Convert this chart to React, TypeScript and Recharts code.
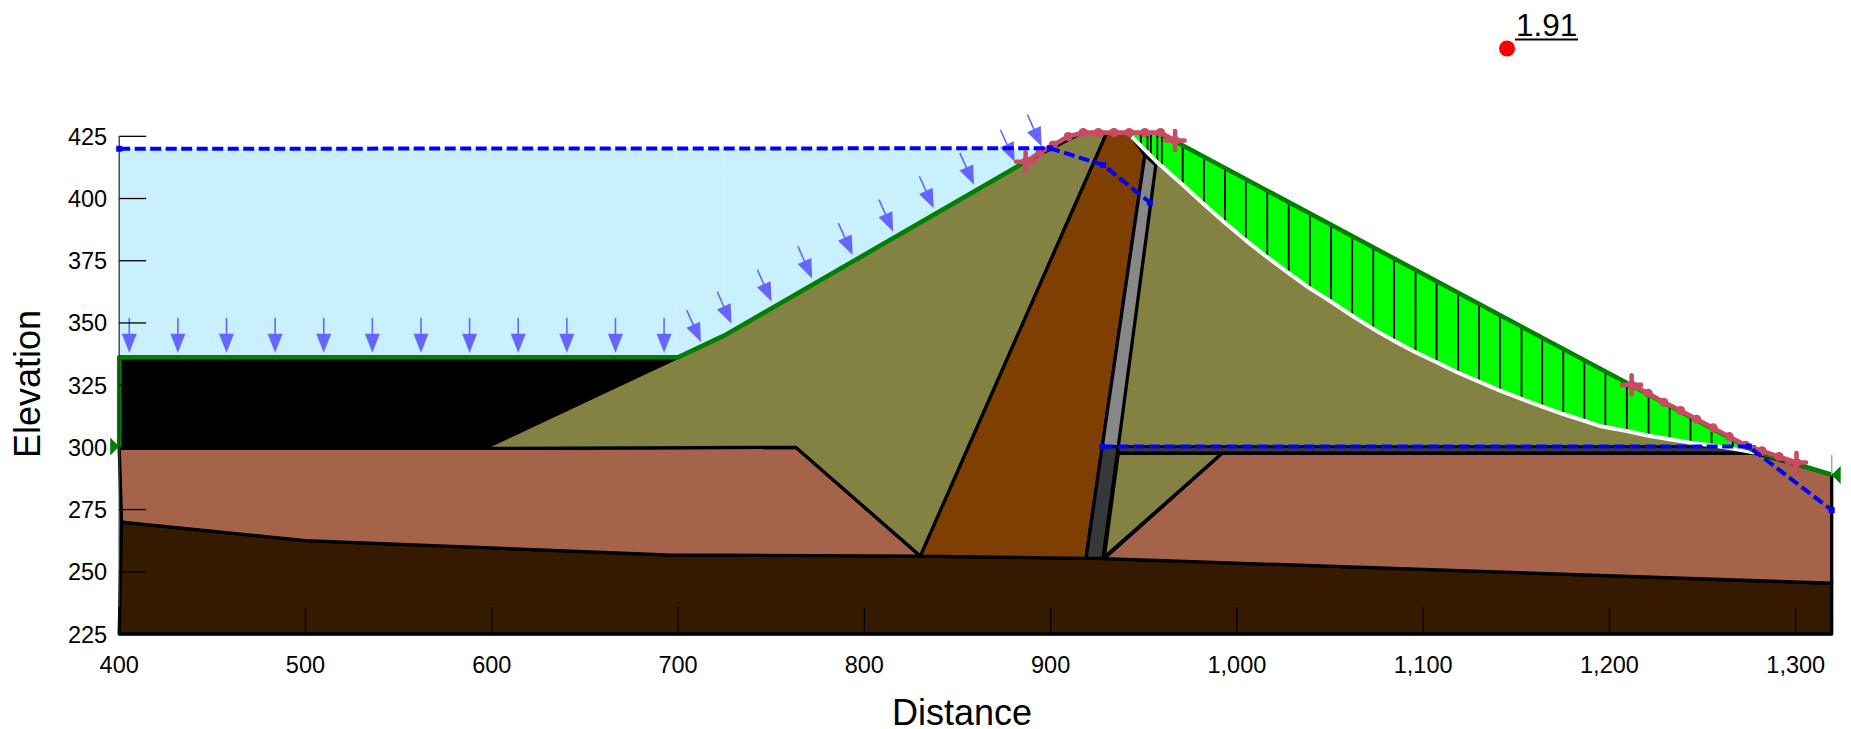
import React from 'react';
import { ScatterChart, Scatter, XAxis, YAxis } from 'recharts';

type V = [number, number];

const xTicks = [400, 500, 600, 700, 800, 900, 1000, 1100, 1200, 1300];
const yTicks = [225, 250, 275, 300, 325, 350, 375, 400, 425];

const water: V[] = [[400, 420], [900, 420], [725, 345], [700, 336.2], [400, 336.2]];
const bedrock: V[] = [[401.3, 270], [500, 262.5], [694, 256.8], [830, 256.3], [919, 255.4], [928.8, 255.3], [1319.3, 245.4], [1319.3, 225], [400, 225]];
const foundationLeft: V[] = [[400, 299.6], [596, 299.6], [763.3, 300], [830, 256.3], [694, 256.8], [500, 262.5], [401.3, 270]];
const foundationRight: V[] = [[992, 297.6], [1278, 297.6], [1319.3, 289], [1319.3, 245.4], [928.8, 255.3]];
const blackLayer: V[] = [[400, 336.2], [700, 336.2], [596, 299.6], [400, 299.6]];
const shellUpstream: V[] = [[596, 299.6], [700, 336.2], [725, 345], [886.6, 414.8], [917, 426.5], [930.2, 426.5], [830.1, 256.3], [763.3, 300]];
const core: V[] = [[830.1, 256.3], [930.2, 426.5], [942, 426.5], [950.6, 417.5], [919, 255.4]];
const filterUpper: V[] = [[927.7, 300.3], [936.3, 300.3], [956.5, 413.5], [950.6, 417.5]];
const filterLower: V[] = [[919, 255.4], [928.1, 255.4], [936.3, 300.3], [927.7, 300.3]];
const drainLayer: V[] = [[936.3, 300.3], [1278, 300.3], [1278, 297.8], [936.3, 297.8]];
const toeWedge: V[] = [[936.3, 297.6], [992, 297.6], [928.8, 255.8]];

const slipCurve: V[] = [
  [943.5, 424.9], [956.9, 414.8], [970.9, 405.5], [982.3, 397.7], [993.6, 390.3], [1004.8, 383.2],
  [1016.3, 376.4], [1027.8, 370], [1039.2, 363.9], [1050.5, 358.6], [1061.9, 352.9], [1073.2, 347.6],
  [1084.4, 342.8], [1095.9, 338.2], [1107.2, 334.2], [1118.8, 330], [1130, 326.4], [1141.2, 322.8],
  [1152.8, 319.5], [1163.9, 316.4], [1175.2, 313.4], [1194.8, 308.6], [1209.3, 306.6], [1221, 304.7],
  [1232.3, 303.3], [1243.5, 301.9], [1254.8, 300.8], [1266.2, 299.5], [1278, 297.9],
];
const surfaceRight: V[] = [[958, 426.5], [1278, 298.4], [1319.3, 289]];
const surfaceLeft: V[] = [[400, 300], [400, 336.2], [700, 336.2], [725, 345], [886.6, 414.8]];
const slipTop: V[] = [[943.5, 426.5], [958, 426.5], [1278, 298.4]];

// slice x, top elevation, bottom elevation
const slices: [number, number, number][] = [
  [948.4, 426.5, 420.8], [952, 426.5, 418], [953.8, 426.5, 416.3], [957.3, 426.5, 414.4], [959.7, 425.8, 413],
  [970.9, 421.3, 405.5], [982.3, 416.8, 397.7], [993.6, 412.3, 390.3], [1004.8, 407.8, 383.2], [1016.3, 403.2, 376.4],
  [1027.8, 398.6, 370], [1039.2, 394, 363.9], [1050.5, 389.5, 358.6], [1061.9, 384.9, 352.9], [1073.2, 380.4, 347.6],
  [1084.4, 375.9, 342.8], [1095.9, 371.3, 338.2], [1107.2, 366.8, 334.2], [1118.8, 362.2, 330], [1130, 357.7, 326.4],
  [1141.2, 353.2, 322.8], [1152.8, 348.6, 319.5], [1163.9, 344.1, 316.4], [1175.2, 339.6, 313.4], [1186.5, 335, 310.9],
  [1197.8, 330.5, 308.1], [1209.3, 325.9, 306.6], [1221, 321.3, 304.7], [1232.3, 316.8, 303.3], [1243.5, 312.3, 301.9],
  [1254.8, 307.8, 300.8], [1266.2, 303.2, 299.5],
];

const piezoUpper: V[] = [[400, 420], [899.6, 420.2], [928.2, 413.5], [953.3, 398.4]];
const piezoLower: V[] = [[927.7, 300.3], [1274.8, 300.3], [1319.3, 274.8]];

const slipEntry: V[] = [[886.6, 414.8], [894.3, 418.4], [901.4, 421.5], [909.5, 424.9], [917.5, 426.5], [925.6, 426.5], [934, 426.5], [942.2, 426.5], [950.6, 426.5], [959, 426.5], [966.8, 423.3]];
const slipExit: V[] = [[1211.9, 325.1], [1220.8, 321.7], [1229.2, 318.1], [1238.2, 314.8], [1246.8, 311.3], [1255.7, 307.8], [1264.3, 304.3], [1273.1, 300.8], [1281.9, 298.6], [1291, 296.3], [1300.4, 293.9]];
const slipEnds: V[] = [[886.6, 414.8], [966.8, 423.3], [1211.9, 325.1], [1300.4, 293.9]];

const pressureFlat: V[] = [[405.4, 338], [431.5, 338], [457.6, 338], [483.7, 338], [509.8, 338], [535.9, 338], [562, 338], [588.1, 338], [614.2, 338], [640.3, 338], [666.4, 338], [692.5, 338]];
const pressureSlope: V[] = [[712.3, 342.3], [728.7, 349.7], [750.2, 358.6], [772, 367.9], [793.7, 377.3], [815.5, 386.7], [837.2, 396.1], [858.9, 405.5], [880.7, 414.8], [895.2, 420.9]];

const criticalPoint: V[] = [[1145, 460.3]];
const factorOfSafety = '1.91';
const leftPin: V[] = [[400, 300.3]];
const rightPin: V[] = [[1319.3, 288.9]];
const rightPinStem: V[] = [[1319.3, 296.9], [1319.3, 288.9]];
const leftAxis: V[] = [[400, 225], [400, 425]];
const bottomAxis: V[] = [[400, 225], [1320, 225]];
const seamA: V[] = [[699, 420], [699, 336.5]];
const seamB: V[] = [[725, 420], [725, 345]];

const FONT = '"Liberation Sans", Arial, sans-serif';
const pts = (a: V[]) => a.map(([x, y]) => ({ x, y }));
const noMark = () => <g />;

const poly = (key: string, verts: V[], fill: string, stroke = '#000', sw = 3.3) => (
  <Scatter key={key} data={pts([...verts, verts[0]])} shape={noMark} isAnimationActive={false}
    line={{ fill, stroke, strokeWidth: sw, strokeLinejoin: 'round' }} />
);
const path = (key: string, verts: V[], stroke: string, sw: number, extra: any = {}) => (
  <Scatter key={key} data={pts(verts)} shape={noMark} isAnimationActive={false}
    line={{ fill: 'none', stroke, strokeWidth: sw, strokeLinejoin: 'round', ...extra }} />
);
const marks = (key: string, verts: V[], shape: any) => (
  <Scatter key={key} data={pts(verts)} shape={shape} isAnimationActive={false} />
);

const arrow = (angle: number) => ({ cx, cy }: any) => (
  <g transform={`translate(${cx},${cy}) rotate(${angle})`}>
    <line x1={0} y1={-35} x2={0} y2={-15} stroke="#6666FF" strokeWidth={1.6} />
    <polygon points="0,0 -7.5,-19 7.5,-19" fill="#6666FF" />
  </g>
);
const dot = ({ cx, cy }: any) => <circle cx={cx} cy={cy} r={4.6} fill="#C84B63" />;
const plus = ({ cx, cy }: any) => (
  <g stroke="#C84B63" strokeWidth={4.6} strokeLinecap="round">
    <line x1={cx - 9.5} y1={cy} x2={cx + 9.5} y2={cy} />
    <line x1={cx} y1={cy - 9.5} x2={cx} y2={cy + 9.5} />
  </g>
);
const square = ({ cx, cy }: any) => <rect x={cx - 3} y={cy - 3} width={6} height={6} fill="#0000FF" />;
const pinRight = ({ cx, cy }: any) => <polygon points={`${cx},${cy} ${cx - 9},${cy - 9} ${cx - 9},${cy + 9}`} fill="#008000" />;
const pinLeft = ({ cx, cy }: any) => <polygon points={`${cx},${cy} ${cx + 9},${cy - 9} ${cx + 9},${cy + 9}`} fill="#008000" />;
const critical = ({ cx, cy }: any) => (
  <g>
    <circle cx={cx} cy={cy} r={8} fill="#FF0000" />
    <text x={cx + 9} y={cy - 12} fontFamily={FONT} fontSize={31.5} fill="#000">{factorOfSafety}</text>
    <line x1={cx + 8} y1={cy - 9} x2={cx + 71} y2={cy - 9} stroke="#000" strokeWidth={2} />
  </g>
);

const XTick = ({ x, y, payload }: any) => (
  <g>
    <line x1={x} x2={x} y1={y - 27} y2={y} stroke="#000" strokeWidth={1.3} />
    <text x={x} y={y + 39} textAnchor="middle" fontFamily={FONT} fontSize={23.5} fill="#000">
      {Number(payload.value).toLocaleString('en-US')}
    </text>
  </g>
);
const YTick = ({ x, y, payload }: any) => (
  <g>
    <line x1={x} x2={x + 27} y1={y} y2={y} stroke="#000" strokeWidth={1.3} />
    <text x={x - 12} y={y + 8.5} textAnchor="end" fontFamily={FONT} fontSize={23.5} fill="#000">
      {payload.value}
    </text>
  </g>
);

export default function App() {
  return (
    <div style={{ position: 'absolute', left: 0, top: 0, width: 1851, height: 729, background: '#fff' }}>
      <ScatterChart width={1851} height={729} margin={{ top: 11.9, right: 18, bottom: 0, left: 0 }}>
        <XAxis type="number" dataKey="x" domain={[400, 1320]} ticks={xTicks} height={95} interval={0}
          axisLine={false} tickLine={false} tickSize={0} tickMargin={0} tick={<XTick />}
          label={{ value: 'Distance', position: 'insideBottom', offset: 4, dx: -14, style: { fontFamily: FONT, fontSize: 36, fill: '#000' } }} />
        <YAxis type="number" dataKey="y" domain={[225, 475]} ticks={yTicks} width={119.2} interval={0}
          axisLine={false} tickLine={false} tickSize={0} tickMargin={0} tick={<YTick />}
          label={{ value: 'Elevation', angle: -90, position: 'insideLeft', offset: 27, dy: 61, textAnchor: 'middle', style: { fontFamily: FONT, fontSize: 36, fill: '#000', textAnchor: 'middle' } }} />

        {poly('water', water, '#C8F0FF', 'none', 0)}
        {path('seamA', seamA, '#D6F4FF', 1)}
        {path('seamB', seamB, '#D6F4FF', 1)}
        {poly('bedrock', bedrock, '#351A00')}
        {poly('foundationLeft', foundationLeft, '#A5634A')}
        {poly('foundationRight', foundationRight, '#A5634A')}
        {poly('blackLayer', blackLayer, '#000')}
        {poly('shellUpstream', shellUpstream, '#838242')}
        {poly('shellDownstream', [[936.3, 300.3], ...slipCurve.slice(1), [1278, 300.3]], '#838242', '#000', 0)}
        {poly('toeWedge', toeWedge, '#838242')}
        {poly('core', core, '#7F3F00')}
        {poly('filterUpper', filterUpper, '#888888')}
        {poly('filterLower', filterLower, '#38383C')}
        {poly('drainLayer', drainLayer, '#38383C', '#000', 2.5)}
        {poly('slipMass', [...slipTop, ...[...slipCurve].reverse()], '#00FF00', 'none', 0)}
        {slices.map(([x, t, b], i) => path(`slice${i}`, [[x, t], [x, b]], '#000', 1.8))}
        {path('slipCurve', slipCurve, '#FFFFFF', 4)}
        {path('surfaceLeft', surfaceLeft, '#008000', 4.5)}
        {path('surfaceRight', surfaceRight, '#008000', 4.5)}
        {path('rightPinStem', rightPinStem, '#7FBF7F', 1.5)}
        {path('leftAxis', leftAxis, '#333', 1.3)}
        {path('bottomAxis', bottomAxis, '#000', 2.5)}
        {marks('pressureFlat', pressureFlat, arrow(0))}
        {marks('pressureSlope', pressureSlope, arrow(-24))}
        {path('slipEntry', slipEntry, '#C84B63', 4.6)}
        {path('slipExit', slipExit, '#C84B63', 4.6)}
        {marks('slipEntryDots', slipEntry, dot)}
        {marks('slipExitDots', slipExit, dot)}
        {marks('slipEnds', slipEnds, plus)}
        {path('piezoUpper', piezoUpper, '#0000FF', 4, { strokeDasharray: '11 4.5' })}
        {path('piezoLower', piezoLower, '#0000FF', 4, { strokeDasharray: '11 4.5' })}
        {marks('piezoUpperNodes', piezoUpper, square)}
        {marks('piezoLowerNodes', piezoLower, square)}
        {marks('leftPin', leftPin, pinRight)}
        {marks('rightPin', rightPin, pinLeft)}
        {marks('critical', criticalPoint, critical)}
      </ScatterChart>
    </div>
  );
}
